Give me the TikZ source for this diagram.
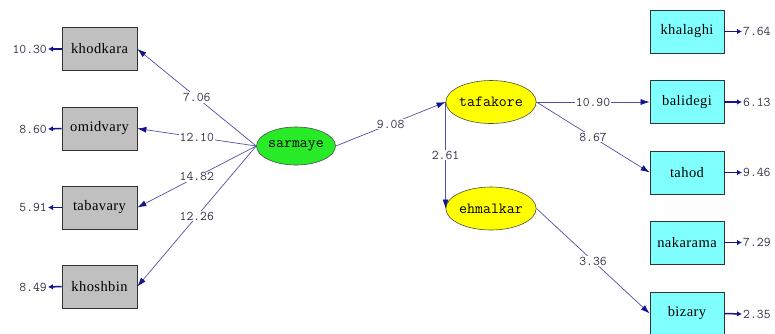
\documentclass[tikz,border=0pt]{standalone}
\usepackage{fontspec}
\setmainfont{Liberation Serif}
\newfontfamily\boxf[LetterSpace=3]{Liberation Serif}
\usetikzlibrary{arrows.meta,shapes.geometric}
\definecolor{linec}{RGB}{80,80,170}
\definecolor{tipc}{RGB}{20,20,140}
\definecolor{numc}{RGB}{50,50,70}
\definecolor{graybox}{RGB}{192,192,192}
\definecolor{cyanbox}{RGB}{128,255,255}
\definecolor{greenell}{RGB}{40,235,40}
\definecolor{yellowell}{RGB}{255,255,0}
\tikzset{
  obsgray/.style={draw=black!80, fill=graybox, line width=0.8pt, minimum width=75pt, minimum height=43pt, inner sep=0pt, font=\boxf\fontsize{14.5}{16}\selectfont},
  obscyan/.style={draw=black!80, fill=cyanbox, line width=0.8pt, minimum width=74pt, minimum height=43pt, inner sep=0pt, font=\boxf\fontsize{14.5}{16}\selectfont},
  latent/.style={ellipse, draw=black!70, line width=0.6pt, minimum width=75pt, minimum height=40pt, inner sep=0pt, font=\ttfamily\fontsize{15.5}{17}\selectfont},
  path/.style={draw=linec, line width=0.7pt, -{Latex[length=9pt,width=6pt,color=tipc]}},
  errarr/.style={draw=tipc, line width=1.5pt, -{Latex[length=5pt,width=5.5pt]}},
  lab/.style={fill=white, inner sep=1pt, text=numc, font=\ttfamily\fontsize{13.3}{15}\selectfont},
  errlab/.style={inner sep=1pt, text=numc, font=\ttfamily\fontsize{13.3}{15}\selectfont}
}
\begin{document}
\begin{tikzpicture}[x=1pt,y=-1pt]
\useasboundingbox[fill=white] (0,0) rectangle (775,333);
% left observed
\node[obsgray] (khodkara) at (99.5,49) {khodkara};
\node[obsgray] (omidvary) at (99.5,128.5) {omidvary};
\node[obsgray] (tabavary) at (99.5,207.5) {tabavary};
\node[obsgray] (khoshbin) at (99.5,286.5) {khoshbin};
% right observed
\node[obscyan] (khalaghi) at (687,31.5) {khalaghi};
\node[obscyan] (balidegi) at (687,102) {balidegi};
\node[obscyan] (tahod) at (687,172.5) {tahod};
\node[obscyan] (nakarama) at (687,242.5) {nakarama};
\node[obscyan] (bizary) at (687,313.5) {bizary};
% latent
\node[latent, fill=greenell, minimum height=38pt] (sarmaye) at (296,146) {sarmaye};
\node[latent, fill=yellowell, minimum width=74pt, minimum height=43pt] (tafakore) at (491,102) {tafakore};
\node[latent, fill=yellowell, minimum width=74pt, minimum height=43pt] (ehmalkar) at (491,208.5) {ehmalkar};
% error labels
\node[errlab, anchor=east] (e1) at (48,49) {10.30};
\node[errlab, anchor=east] (e2) at (48,129) {8.60};
\node[errlab, anchor=east] (e3) at (48,207.5) {5.91};
\node[errlab, anchor=east] (e4) at (48,287) {8.49};
\node[errlab, anchor=west] (e5) at (742,31.5) {7.64};
\node[errlab, anchor=west] (e6) at (742,102) {6.13};
\node[errlab, anchor=west] (e7) at (742,172.5) {9.46};
\node[errlab, anchor=west] (e8) at (742,242.5) {7.29};
\node[errlab, anchor=west] (e9) at (742,314) {2.35};
% error arrows
\draw[errarr] (khodkara.west) -- (e1.east);
\draw[errarr] (omidvary.west) -- (e2.east);
\draw[errarr] (tabavary.west) -- (e3.east);
\draw[errarr] (khoshbin.west) -- (e4.east);
\draw[errarr] (khalaghi.east) -- (e5.west);
\draw[errarr] (balidegi.east) -- (e6.west);
\draw[errarr] (tahod.east) -- (e7.west);
\draw[errarr] (nakarama.east) -- (e8.west);
\draw[errarr] (bizary.east) -- (e9.west);
% paths
\draw[path] (sarmaye.west) -- node[lab] {7.06} (khodkara.east);
\draw[path] (sarmaye.west) -- node[lab] {12.10} (omidvary.east);
\draw[path] (sarmaye.west) -- node[lab] {14.82} (tabavary.east);
\draw[path] (sarmaye.west) -- node[lab] {12.26} (khoshbin.east);
\draw[path] (sarmaye.east) -- node[lab] {9.08} (tafakore.west);
\draw[path] (tafakore.west) -- node[lab] {2.61} (ehmalkar.west);
\draw[path] (tafakore.east) -- node[lab] {10.90} (balidegi.west);
\draw[path] (tafakore.east) -- node[lab] {8.67} (tahod.west);
\draw[path] (ehmalkar.east) -- node[lab] {3.36} (bizary.west);
\end{tikzpicture}
\end{document}
